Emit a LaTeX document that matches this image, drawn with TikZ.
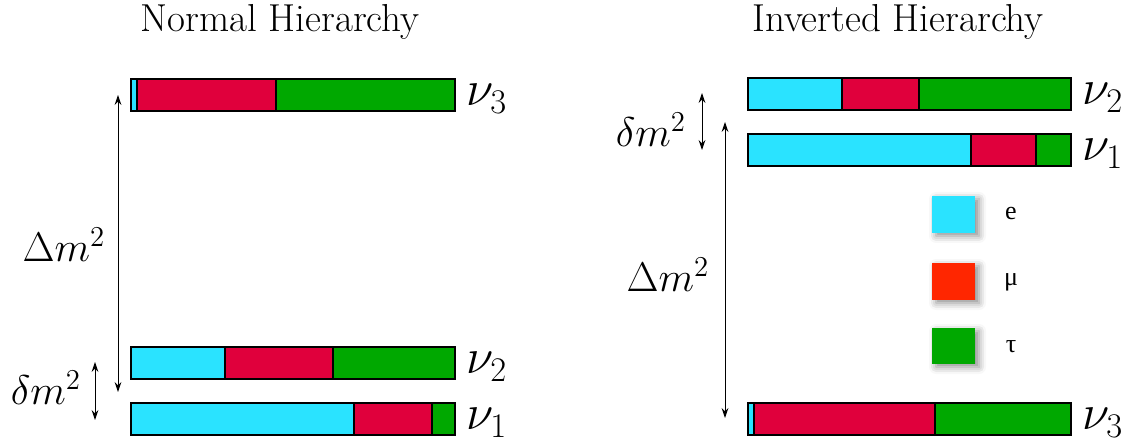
\documentclass[tikz,border=0pt]{standalone}
\usepackage{fontspec}
\newfontfamily\keyfont{Liberation Serif}
\usetikzlibrary{arrows.meta, shadows.blur}
\definecolor{cE}{RGB}{42,227,255}
\definecolor{cMu}{RGB}{224,0,60}
\definecolor{cMuKey}{RGB}{255,38,0}
\definecolor{cTau}{RGB}{0,168,0}
\tikzset{
	title/.style={font=\fontsize{19.5}{23}\selectfont},
	nulab/.style={font=\fontsize{23.5}{28}\selectfont, inner sep=0pt},
	gaplab/.style={font=\fontsize{20}{24}\selectfont, inner sep=0pt},
	barline/.style={draw=black, line width=0.6pt},
	split/.style={arrows={Stealth[length=5pt, width=3.4pt]-Stealth[length=5pt, width=3.4pt]}, line width=0.5pt},
	% legend key
	keybox/.style={blur shadow={shadow xshift=2pt, shadow yshift=-1.5pt, shadow blur radius=3.5pt, shadow opacity=45}},
	keylab/.style={font=\keyfont\fontsize{13}{15}\selectfont},
}
\begin{document}
\begin{tikzpicture}[x=0.5pt, y=-0.5pt]
	\useasboundingbox (0,0) rectangle (1130,448);
	\node[title] (tNormal) at (280,22) {Normal Hierarchy};
	\node[title] (tInverted) at (898,22) {Inverted Hierarchy};
	% mass bars: left x / top y / e-mu split / mu-tau split / right x / index / name
	\foreach \xl/\yt/\xa/\xb/\xr/\idx/\nm in {131/79/137/276/455/3/nThree, 131/347/225/333/455/2/nTwo, 131/403/354/432/455/1/nOne,
			748/78/842/919/1071/2/iTwo, 748/134/971/1036/1071/1/iOne, 748/403/754/935/1071/3/iThree}{
		\fill[cE] (\xl,\yt) rectangle (\xa,\yt+32);
		\fill[cMu] (\xa,\yt) rectangle (\xb,\yt+32);
		\fill[cTau] (\xb,\yt) rectangle (\xr,\yt+32);
		\draw[barline] (\xl,\yt) rectangle (\xr,\yt+32);
		\draw[barline] (\xa,\yt) -- (\xa,\yt+32) (\xb,\yt) -- (\xb,\yt+32);
		\node[nulab, anchor=base west] (\nm) at (\xr+11,\yt+27) {$\nu_{\idx}$};
	}
	% splittings
	\coordinate (nBigTop) at (118,95);
	\coordinate (nBigBot) at (118,392);
	\coordinate (nSmTop) at (95,362);
	\coordinate (nSmBot) at (95,420);
	\coordinate (iSmTop) at (702,93);
	\coordinate (iSmBot) at (702,150);
	\coordinate (iBigTop) at (725,122);
	\coordinate (iBigBot) at (725,418);
	\draw[split] (nBigTop) -- (nBigBot);
	\draw[split] (nSmTop) -- (nSmBot);
	\draw[split] (iSmTop) -- (iSmBot);
	\draw[split] (iBigTop) -- (iBigBot);
	\node[gaplab] (nBig) at (64,245) {$\Delta m^2$};
	\node[gaplab] (nSm) at (46,388) {$\delta m^2$};
	\node[gaplab] (iSm) at (651,130) {$\delta m^2$};
	\node[gaplab] (iBig) at (668,275) {$\Delta m^2$};
	% legend
	\fill[cE, keybox] (932,196) rectangle (975,233);
	\fill[cMuKey, keybox] (932,263) rectangle (975,300);
	\fill[cTau, keybox] (932,328) rectangle (975,364);
	\node[keylab] (kE) at (1011,214) {e};
	\node[keylab] (kMu) at (1011,282) {μ};
	\node[keylab] (kTau) at (1011,347) {τ};
\end{tikzpicture}
\end{document}
